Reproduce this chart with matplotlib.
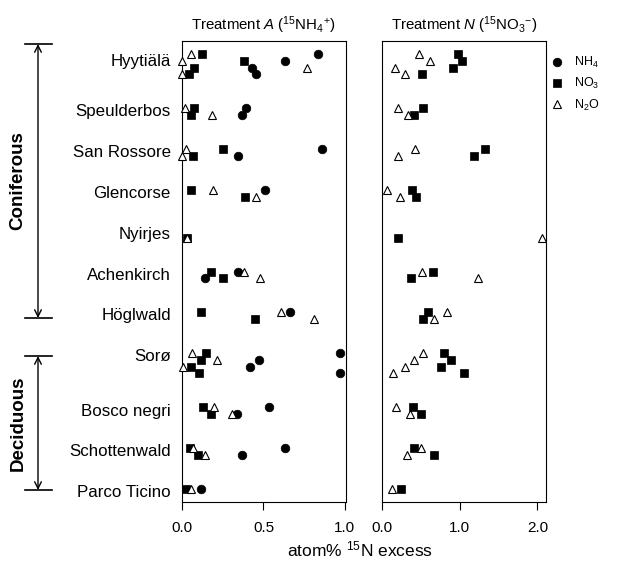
import numpy as np
import matplotlib
matplotlib.use("Agg")
import matplotlib.pyplot as plt
from matplotlib.lines import Line2D

plt.rcParams['font.family'] = ['Liberation Sans', 'DejaVu Sans']
plt.rcParams['mathtext.fontset'] = 'custom'
plt.rcParams['mathtext.rm'] = 'Liberation Sans'
plt.rcParams['mathtext.it'] = 'Liberation Sans:italic'
plt.rcParams['mathtext.bf'] = 'Liberation Sans:bold'

nan = np.nan

sites = ["Hyytiälä", "Speulderbos", "San Rossore", "Glencorse", "Nyirjes",
         "Achenkirch", "Höglwald", "Sorø", "Bosco negri", "Schottenwald",
         "Parco Ticino"]

# Treatment A (15NH4+): one value per replicate plot (row) for each site
A_NH4 = [[0.836, 0.630, 0.431, 0.454], [0.395, 0.366], [0.859, 0.346],
         [0.507, nan], [nan, nan], [0.346, 0.143], [0.665, nan],
         [0.969, 0.470, 0.415, 0.967], [0.532, 0.335], [0.630, 0.368],
         [0.118]]
A_NO3 = [[0.125, 0.382, 0.074, 0.043], [0.076, 0.055], [0.254, 0.067],
         [0.055, 0.385], [nan, 0.033], [0.178, 0.250], [0.118, 0.450],
         [0.145, 0.115, 0.055, 0.106], [0.127, 0.180], [0.049, 0.098],
         [0.025]]
A_N2O = [[0.053, 0.0, 0.765, 0.0], [0.018, 0.184], [0.025, 0.0],
         [0.190, 0.454], [nan, 0.033], [0.380, 0.477], [0.605, 0.810],
         [0.061, 0.213, 0.004, nan], [0.196, 0.310], [0.065, 0.139],
         [0.053]]

# Treatment N (15NO3-)
N_NO3 = [[0.98, 1.03, 0.92, 0.52], [0.53, 0.41], [1.33, 1.18],
         [0.38, 0.44], [nan, 0.20], [0.656, 0.373], [0.59, 0.53],
         [0.80, 0.89, 0.76, 1.05], [0.40, 0.50], [0.41, 0.67],
         [0.24]]
N_N2O = [[0.48, 0.62, 0.17, 0.30], [0.20, 0.33], [0.42, 0.21],
         [0.07, 0.23], [nan, 2.06], [0.515, 1.23], [0.84, 0.67],
         [0.53, 0.41, 0.30, 0.145], [0.18, 0.365], [0.50, 0.32],
         [0.13]]

A_ticks = [0.0, 0.5, 1.0]
A_ticklabels = ["0.0", "0.5", "1.0"]
N_ticks = [0.0, 1.0, 2.0]
N_ticklabels = ["0.0", "1.0", "2.0"]

# ---- layout: rows for each site (replicates stacked) ----
starts = []
pos = 0
for rows in A_NH4:
    starts.append(pos)
    pos += len(rows) + 4

def ypos(series):
    xs, ys = [], []
    for s, rows in zip(starts, series):
        for k, v in enumerate(rows):
            xs.append(v)
            ys.append(s + k)
    return np.array(xs), np.array(ys)

W, H = 638, 568
fig = plt.figure(figsize=(W / 100, H / 100), dpi=100)
bottom = 1 - 502 / H
height = 461 / H
axA = fig.add_axes([182 / W, bottom, 163.7 / W, height])
axN = fig.add_axes([382 / W, bottom, 163.7 / W, height])

circ = dict(marker='o', ms=6.2, mfc='black', mec='black', ls='none', mew=0.5)
sq = dict(marker='s', ms=5.4, mfc='black', mec='black', ls='none', mew=0.5)
tri = dict(marker='^', ms=6.0, mfc='white', mec='black', ls='none', mew=0.8)

for ax, series in ((axA, [(A_NH4, circ), (A_NO3, sq), (A_N2O, tri)]),
                   (axN, [(N_NO3, sq), (N_N2O, tri)])):
    for data, st in series:
        x, y = ypos(data)
        ax.plot(x, y, clip_on=False, zorder=3, **st)

ylim = (65.9, -1.9)
for ax in (axA, axN):
    ax.set_ylim(*ylim)
    for sp in ax.spines.values():
        sp.set_linewidth(0.8)
        sp.set_color('black')
    ax.tick_params(axis='x', direction='out', length=5.5, width=0.8,
                   pad=8, labelsize=11)

axA.set_xlim(0, 1.005)
axA.set_xticks(A_ticks, labels=A_ticklabels)
axN.set_xlim(0, 2.107)
axN.set_xticks(N_ticks, labels=N_ticklabels)

label_y = [s + 0.3 for s in starts]
label_y[0] = starts[0] + 0.9
axA.set_yticks(label_y, labels=sites)
axA.tick_params(axis='y', length=0, pad=8, labelsize=12.2)
axN.set_yticks([])

axA.set_title(r"Treatment $\mathit{A}$ ($^{15}$NH$_4$$^{+}$)", fontsize=10.8, pad=8)
axN.set_title(r"Treatment $\mathit{N}$ ($^{15}$NO$_3$$^{-}$)", fontsize=10.8, pad=8)

fig.text(360 / W, 1 - 549 / H, r"atom% $^{15}$N excess", ha='center',
         va='center', fontsize=12.5)

# legend
handles = [Line2D([], [], **circ), Line2D([], [], **sq), Line2D([], [], **tri)]
labels = [r"NH$_4$", r"NO$_3$", r"N$_2$O"]
fig.legend(handles, labels, loc='upper left',
           bbox_to_anchor=(546 / W, 1 - 50 / H), frameon=False,
           fontsize=9, handlelength=1.0, handletextpad=0.8,
           labelspacing=0.5, borderaxespad=0)

# group brackets
def bracket(y0, y1, text):
    f0 = H - y0
    f1 = H - y1
    for yy in (f0, f1):
        fig.add_artist(Line2D([25 / W, 52 / W], [yy / H, yy / H], color='black',
                              lw=1.2))
    fig.add_artist(matplotlib.patches.FancyArrowPatch(
        (38 / W, f0 / H), (38 / W, f1 / H), arrowstyle='<->',
        mutation_scale=12, lw=1.0, color='black',
        transform=fig.transFigure, shrinkA=0, shrinkB=0))
    fig.text(18 / W, ((f0 + f1) / 2) / H, text, rotation=90, ha='center',
             va='center', fontsize=13.5, fontweight='bold')

bracket(44, 318, "Coniferous")
bracket(356, 490, "Deciduous")

fig.savefig("out.png", dpi=100)
